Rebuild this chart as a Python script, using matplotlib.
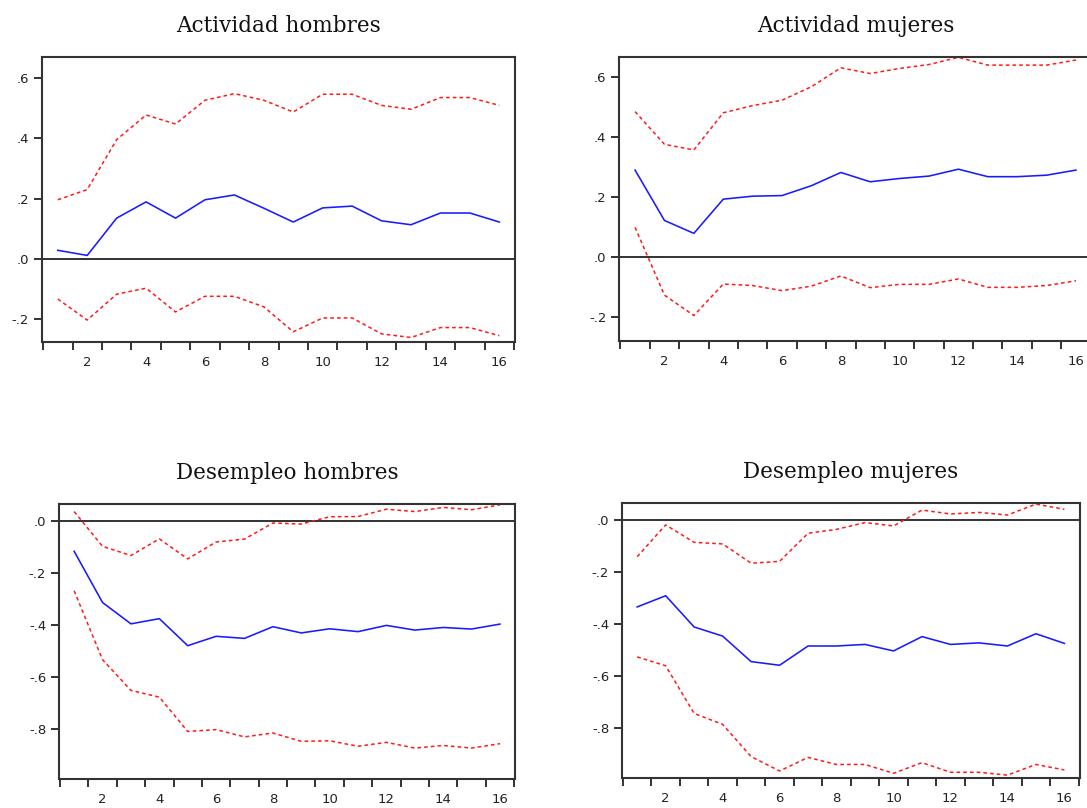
import matplotlib
matplotlib.use('Agg')
import matplotlib.pyplot as plt
import numpy as np
from matplotlib.ticker import FuncFormatter, FixedLocator

# horizon 1..16
periods = np.arange(1, 17)

titles = ['Actividad hombres', 'Actividad mujeres', 'Desempleo hombres', 'Desempleo mujeres']

# impulse responses (centre) and +/- 2 s.e. bands
act_h = [0.028, 0.011, 0.135, 0.189, 0.135, 0.196, 0.212, 0.168, 0.122, 0.169, 0.175, 0.126, 0.113, 0.152, 0.152, 0.122]
act_h_hi = [0.196, 0.230, 0.396, 0.478, 0.448, 0.527, 0.549, 0.527, 0.488, 0.547, 0.547, 0.510, 0.497, 0.536, 0.536, 0.510]
act_h_lo = [-0.134, -0.204, -0.118, -0.098, -0.177, -0.125, -0.125, -0.160, -0.243, -0.197, -0.197, -0.250, -0.262, -0.229, -0.229, -0.256]

act_m = [0.291, 0.123, 0.080, 0.194, 0.204, 0.206, 0.239, 0.283, 0.252, 0.263, 0.271, 0.294, 0.269, 0.269, 0.274, 0.291]
act_m_hi = [0.486, 0.377, 0.358, 0.482, 0.506, 0.524, 0.569, 0.632, 0.613, 0.630, 0.643, 0.667, 0.641, 0.641, 0.641, 0.658]
act_m_lo = [0.100, -0.126, -0.194, -0.089, -0.094, -0.111, -0.096, -0.062, -0.101, -0.090, -0.090, -0.072, -0.100, -0.100, -0.094, -0.078]

des_h = [-0.115, -0.312, -0.394, -0.374, -0.478, -0.442, -0.450, -0.405, -0.429, -0.413, -0.424, -0.400, -0.418, -0.408, -0.414, -0.395]
des_h_hi = [0.038, -0.096, -0.131, -0.067, -0.144, -0.079, -0.068, -0.006, -0.010, 0.018, 0.019, 0.047, 0.038, 0.054, 0.045, 0.064]
des_h_lo = [-0.267, -0.532, -0.650, -0.676, -0.808, -0.801, -0.829, -0.814, -0.846, -0.844, -0.865, -0.850, -0.872, -0.862, -0.872, -0.855]

des_m = [-0.334, -0.291, -0.411, -0.446, -0.544, -0.558, -0.484, -0.484, -0.478, -0.503, -0.448, -0.478, -0.472, -0.484, -0.437, -0.474]
des_m_hi = [-0.141, -0.019, -0.086, -0.092, -0.166, -0.159, -0.051, -0.036, -0.010, -0.023, 0.038, 0.023, 0.029, 0.019, 0.061, 0.041]
des_m_lo = [-0.526, -0.560, -0.743, -0.785, -0.909, -0.964, -0.912, -0.939, -0.939, -0.973, -0.932, -0.969, -0.969, -0.980, -0.939, -0.960]

y_ticks_top = [-0.2, 0.0, 0.2, 0.4, 0.6]
y_ticks_bottom = [-0.8, -0.6, -0.4, -0.2, 0.0]

panels = [
    (act_h, act_h_lo, act_h_hi, y_ticks_top, (-0.276, 0.671)),
    (act_m, act_m_lo, act_m_hi, y_ticks_top, (-0.278, 0.669)),
    (des_h, des_h_lo, des_h_hi, y_ticks_bottom, (-0.991, 0.067)),
    (des_m, des_m_lo, des_m_hi, y_ticks_bottom, (-0.992, 0.064)),
]

# axes boxes in figure fractions (the top right one runs off the edge, as in the picture)
boxes = [
    [0.0384, 0.5771, 0.4357, 0.3524],
    [0.5695, 0.5783, 0.4351, 0.3515],
    [0.0540, 0.0359, 0.4202, 0.3403],
    [0.5719, 0.0368, 0.4216, 0.3403],
]


def eviews_fmt(v, pos):
    s = '%.1f' % v
    if s == '-0.0':
        s = '0.0'
    return s.replace('0.', '.', 1)


fig = plt.figure(figsize=(10.87, 8.08), dpi=100)

for title, box, (mid, lo, hi, yt, ylim) in zip(titles, boxes, panels):
    ax = fig.add_axes(box)
    ax.axhline(0, color='#222222', lw=1.3, zorder=1)
    ax.plot(periods, hi, color='#ff1a1a', lw=1.1, linestyle=(0, (2.4, 2.0)))
    ax.plot(periods, lo, color='#ff1a1a', lw=1.1, linestyle=(0, (2.4, 2.0)))
    ax.plot(periods, mid, color='#1a1aff', lw=1.15)

    ax.set_xlim(0.455, 16.545)
    ax.set_ylim(*ylim)

    ax.xaxis.set_major_locator(FixedLocator(list(range(2, 17, 2))))
    ax.xaxis.set_minor_locator(FixedLocator(list(np.arange(0.5, 17, 1.0))))
    ax.tick_params(axis='x', which='major', length=0, pad=10, labelsize=9.5, colors='#222222')
    ax.tick_params(axis='x', which='minor', length=6, width=1.3, direction='out', color='#222222')
    ax.set_yticks(yt)
    ax.yaxis.set_major_formatter(FuncFormatter(eviews_fmt))
    ax.tick_params(axis='y', length=6, width=1.3, pad=3, labelsize=9.5, colors='#222222')

    for sp in ax.spines.values():
        sp.set_linewidth(1.5)
        sp.set_color('#333333')

    ax.set_title(title, family='DejaVu Serif', fontsize=15.5, pad=18, color='#111111')

plt.savefig('out.png', dpi=100)
